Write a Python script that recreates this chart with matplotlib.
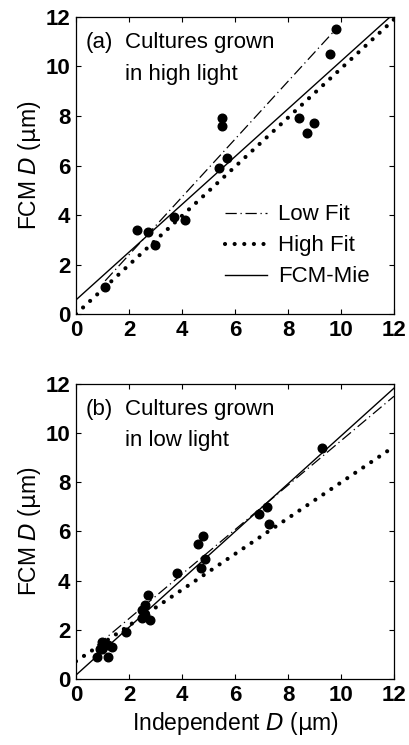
import numpy as np
import matplotlib
matplotlib.use("Agg")
import matplotlib.pyplot as plt

plt.rcParams['font.family'] = ['Liberation Sans', 'DejaVu Sans']

# ---- data: panel (a) high light ----
a_x = [1.1, 2.3, 2.7, 3.0, 3.7, 4.1, 5.4, 5.7, 5.5, 5.5, 8.4, 8.7, 9.0, 9.6, 9.8]
a_y = [1.1, 3.4, 3.3, 2.8, 3.9, 3.8, 5.9, 6.3, 7.6, 7.9, 7.9, 7.3, 7.7, 10.5, 11.5]
a_low_x = [1.1, 9.8]
a_low_y = [1.34, 11.5]
a_high_x = [0.0, 12.0]
a_high_y = [0.0, 11.9]
a_mie_x = [0.0, 11.85]
a_mie_y = [0.57, 12.0]

# ---- data: panel (b) low light ----
b_x = [0.8, 0.9, 1.0, 1.0, 1.2, 1.2, 1.35, 1.9, 2.5, 2.5, 2.6, 2.7, 2.8, 2.6,
       3.8, 4.6, 4.7, 4.8, 4.85, 6.9, 7.2, 7.3, 9.3]
b_y = [0.9, 1.2, 1.5, 1.2, 0.9, 1.4, 1.3, 1.9, 2.5, 2.8, 3.0, 3.4, 2.4, 2.6,
       4.3, 5.5, 4.5, 5.8, 4.9, 6.7, 7.0, 6.3, 9.4]
b_low_x = [0.8, 12.0]
b_low_y = [1.37, 11.5]
b_high_x = [0.0, 12.0]
b_high_y = [0.72, 9.45]
b_mie_x = [0.0, 12.0]
b_mie_y = [0.16, 11.83]

ticks = [0, 2, 4, 6, 8, 10, 12]
legend_labels = ["Low Fit", "High Fit", "FCM-Mie"]

fig = plt.figure(figsize=(4.09, 7.45), dpi=100)
ax1 = fig.add_axes([0.1858, 0.5785, 0.7775, 0.3987])
ax2 = fig.add_axes([0.1858, 0.0886, 0.7775, 0.3960])

dashdot = (0, (9, 3, 1, 3))
dotted = (0, (0.01, 2.3))

def draw(ax, x, y, lx, ly, hx, hy, mx, my):
    l1, = ax.plot(lx, ly, color='black', lw=0.9, linestyle=dashdot)
    l2, = ax.plot(hx, hy, color='black', lw=3.0, linestyle=dotted,
                  dash_capstyle='round', solid_capstyle='round')
    l3, = ax.plot(mx, my, color='black', lw=1.0, linestyle='-')
    ax.plot(x, y, 'o', color='black', ms=6.2, zorder=3)
    ax.set_xlim(0, 12)
    ax.set_ylim(0, 12)
    ax.set_xticks(ticks)
    ax.set_yticks(ticks)
    ax.tick_params(direction='in', top=True, right=True, length=3.5, width=0.8,
                   labelsize=16, pad=4)
    for lab in ax.get_xticklabels() + ax.get_yticklabels():
        lab.set_fontweight('bold')
    for s in ax.spines.values():
        s.set_linewidth(0.9)
    ax.set_ylabel(r'FCM $\mathit{D}$ ($\mathrm{\mu}$m)', fontsize=16.5, labelpad=2)
    return l1, l2, l3

h = draw(ax1, a_x, a_y, a_low_x, a_low_y, a_high_x, a_high_y, a_mie_x, a_mie_y)
draw(ax2, b_x, b_y, b_low_x, b_low_y, b_high_x, b_high_y, b_mie_x, b_mie_y)

fs = 16
ax1.text(0.03, 0.915, "(a)", transform=ax1.transAxes, fontsize=fs, va='center')
ax1.text(0.155, 0.915, "Cultures grown", transform=ax1.transAxes, fontsize=fs, va='center')
ax1.text(0.155, 0.805, "in high light", transform=ax1.transAxes, fontsize=fs, va='center')
ax2.text(0.03, 0.915, "(b)", transform=ax2.transAxes, fontsize=fs, va='center')
ax2.text(0.155, 0.915, "Cultures grown", transform=ax2.transAxes, fontsize=fs, va='center')
ax2.text(0.155, 0.81, "in low light", transform=ax2.transAxes, fontsize=fs, va='center')

leg = ax1.legend(h, legend_labels, loc='lower right', frameon=False, fontsize=fs,
                 handlelength=1.9, handletextpad=0.5, labelspacing=0.45,
                 bbox_to_anchor=(0.965, 0.045), borderaxespad=0.2)

ax2.set_xlabel(r'Independent $\mathit{D}$ ($\mathrm{\mu}$m)', fontsize=16.5, labelpad=3)

fig.savefig('out.png', dpi=100)
